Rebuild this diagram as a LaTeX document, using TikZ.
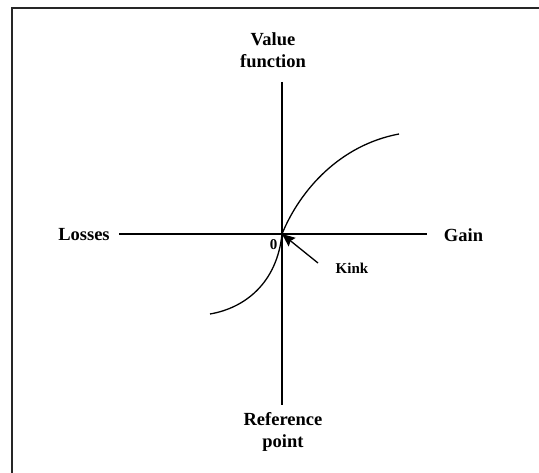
\documentclass[tikz,border=0pt]{standalone}
\usepackage{fontspec}
\setmainfont{Liberation Serif}
\usetikzlibrary{arrows.meta, positioning}

\begin{document}
\begin{tikzpicture}[x=1pt, y=-1pt, >=Stealth, every node/.style={font=\bfseries\fontsize{18.5}{22}\selectfont, inner sep=0pt}]

\clip (0,0) rectangle (539,473);
\fill[white] (0,0) rectangle (539,473);

% Frame
\draw[line width=2pt, black!85] (12,490) -- (12,8) -- (560,8);

% Labels
\node[align=center] (value) at (273,50) {Value\\function};
\node[align=center] (ref) at (283,432) {Reference\\point};
\node (losses) at (84,235) {Losses};
\node (gain) at (463.5,235) {Gain};
\node[font=\bfseries\fontsize{15}{18}\selectfont] (zero) at (273.5,245) {0};
\node[font=\bfseries\fontsize{15}{18}\selectfont] (kink) at (352,268) {Kink};

% Axis ends
\coordinate (O) at (282,234);
\coordinate (top) at (282,82);
\coordinate (bot) at (282,405);
\coordinate (left) at (119,234);
\coordinate (right) at (427,234);
\coordinate (kt) at (318,263);

% Axes
\draw[line width=1.3pt] (left) -- (right);
\draw[line width=1.3pt] (top) -- (bot);

% Value curve
\draw[line width=1.3pt] (O) .. controls (300,190) and (340,145) .. (399,134);
\draw[line width=1.3pt] (210,314) .. controls (245,308) and (277,283) .. (O);

% Kink pointer
\draw[line width=1.3pt, -{Stealth[length=13pt, width=11pt, inset=2pt]}] (kt) -- (O);

\end{tikzpicture}
\end{document}
